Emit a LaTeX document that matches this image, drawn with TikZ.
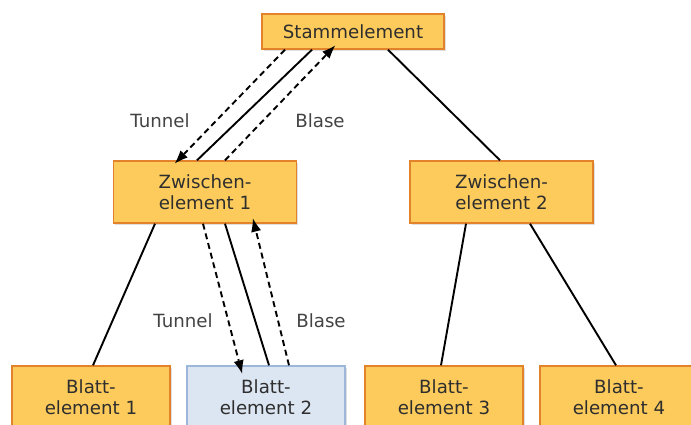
\documentclass[tikz,border=0pt]{standalone}
\usepackage{fontspec}
\setmainfont{DejaVu Sans}
\usetikzlibrary{arrows.meta,shadows}
\definecolor{boxfill}{HTML}{FCCB5C}
\definecolor{boxline}{HTML}{E2822A}
\definecolor{selfill}{HTML}{DCE6F2}
\definecolor{selline}{HTML}{9DB7DA}
\definecolor{txt}{HTML}{2E2E2E}
\tikzset{
  elem/.style={draw=boxline, fill=boxfill, line width=1.4pt, text=txt,
    align=center, inner sep=0pt, font=\fontsize{18.2}{21}\selectfont,
    drop shadow={shadow xshift=1.5pt, shadow yshift=-1.5pt, opacity=0.25}},
  topbox/.style={elem, minimum width=182pt, minimum height=35pt},
  midbox/.style={elem, minimum width=183pt, minimum height=62pt},
  leafbox/.style={elem, minimum width=158pt, minimum height=62pt},
  selbox/.style={leafbox, draw=selline, fill=selfill},
  edge/.style={line width=1.9pt, black},
  flow/.style={line width=1.9pt, black, dash pattern=on 6pt off 4pt,
    -{Latex[length=13pt,width=10pt,line width=0pt]}},
  lbl/.style={text=txt!90, font=\fontsize{18.2}{21}\selectfont, inner sep=0pt}
}
\begin{document}
\begin{tikzpicture}[x=1pt,y=-1pt]
\useasboundingbox (0,0) rectangle (691,424);

% tree nodes
\node[topbox]  (root) at (353,31.5) {Stammelement};
\node[midbox]  (mid1) at (205,192)  {Zwischen-\\element 1};
\node[midbox]  (mid2) at (501.5,192) {Zwischen-\\element 2};
\node[leafbox] (leaf1) at (91,397)  {Blatt-\\element 1};
\node[selbox]  (leaf2) at (266,397) {Blatt-\\element 2};
\node[leafbox] (leaf3) at (444,397) {Blatt-\\element 3};
\node[leafbox] (leaf4) at (619,397) {Blatt-\\element 4};

% tree edges
\draw[edge] ([xshift=-41pt]root.south) -- ([xshift=-8pt]mid1.north);
\draw[edge] ([xshift=35pt]root.south) -- ([xshift=-1.5pt]mid2.north);
\draw[edge] ([xshift=-50pt]mid1.south) -- ([xshift=2pt]leaf1.north);
\draw[edge] ([xshift=20pt]mid1.south) -- ([xshift=3pt]leaf2.north);
\draw[edge] ([xshift=-35.5pt]mid2.south) -- ([xshift=-3pt]leaf3.north);
\draw[edge] ([xshift=28.5pt]mid2.south) -- ([xshift=-3pt]leaf4.north);

% event routes: tunneling down, bubbling up
\draw[flow] ([xshift=-68pt]root.south) -- ([xshift=-30pt,yshift=-3pt]mid1.north);
\draw[flow] ([xshift=20pt]mid1.north) -- ([xshift=-18pt,yshift=4pt]root.south);
\draw[flow] ([xshift=-2pt]mid1.south) -- ([xshift=-24pt,yshift=-8pt]leaf2.north);
\draw[flow] ([xshift=23pt]leaf2.north) -- ([xshift=48pt,yshift=5pt]mid1.south);

% route labels
\node[lbl] (t1) at (160,121) {Tunnel};
\node[lbl] (b1) at (320,121) {Blase};
\node[lbl] (t2) at (183,321) {Tunnel};
\node[lbl] (b2) at (321,321) {Blase};
\end{tikzpicture}
\end{document}
